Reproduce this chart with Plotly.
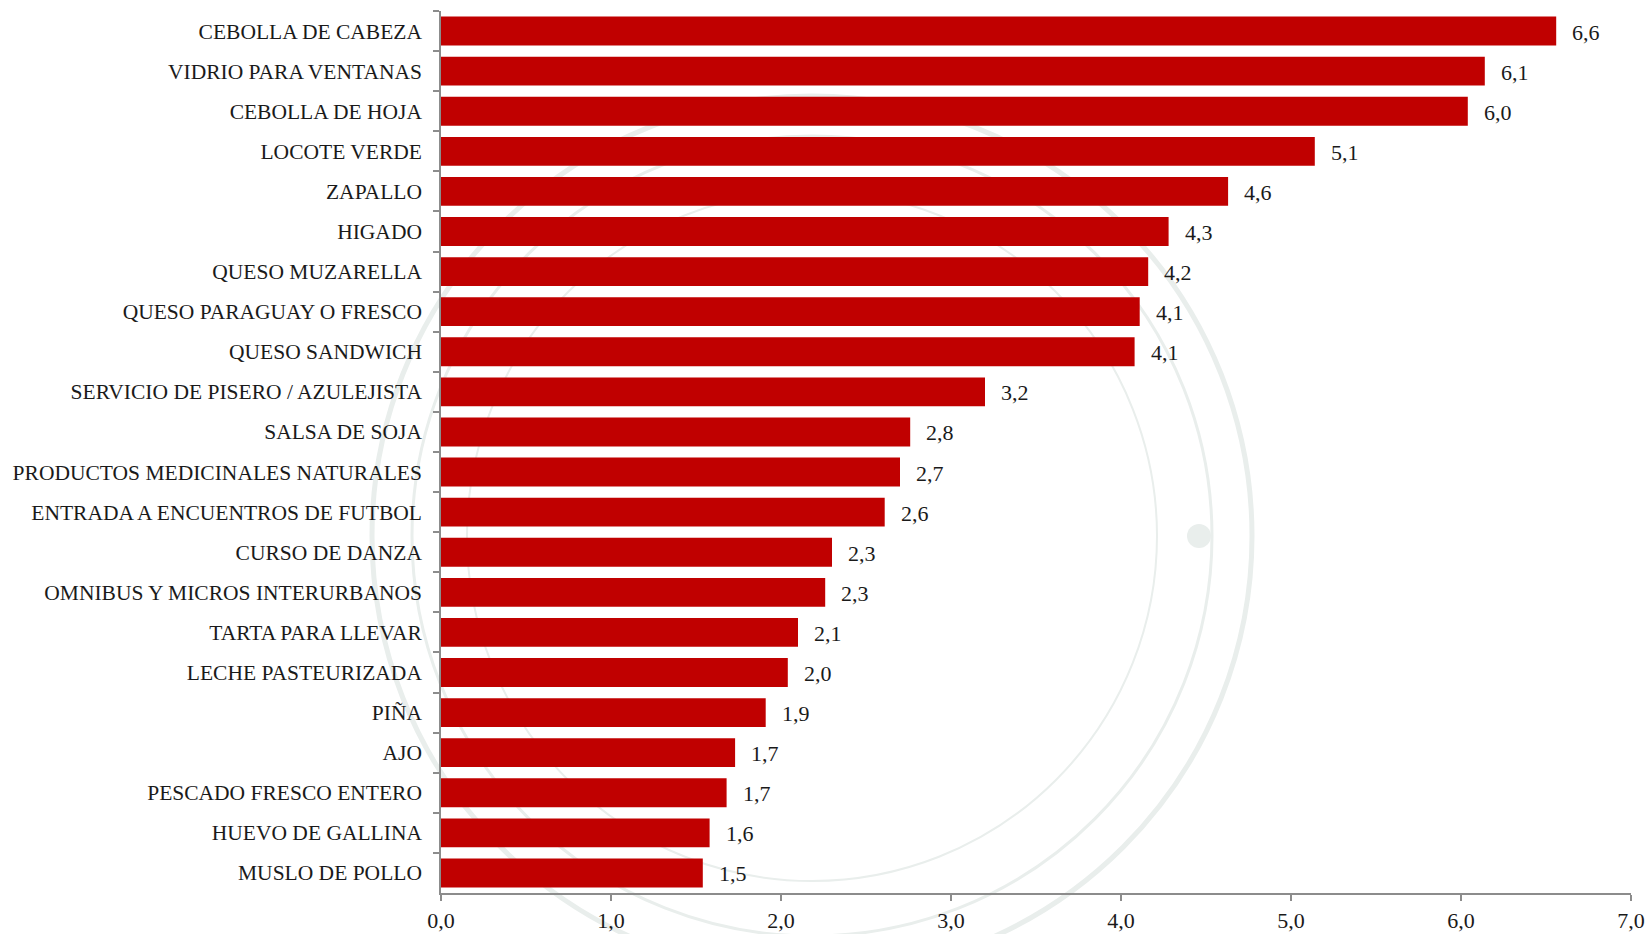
import plotly.graph_objects as go

categories = [
    "CEBOLLA DE CABEZA", "VIDRIO PARA VENTANAS", "CEBOLLA DE HOJA", "LOCOTE VERDE",
    "ZAPALLO", "HIGADO", "QUESO MUZARELLA", "QUESO PARAGUAY O FRESCO",
    "QUESO SANDWICH", "SERVICIO DE PISERO / AZULEJISTA", "SALSA DE SOJA",
    "PRODUCTOS MEDICINALES NATURALES", "ENTRADA A ENCUENTROS DE FUTBOL",
    "CURSO DE DANZA", "OMNIBUS Y MICROS INTERURBANOS", "TARTA PARA LLEVAR",
    "LECHE PASTEURIZADA", "PIÑA", "AJO", "PESCADO FRESCO ENTERO",
    "HUEVO DE GALLINA", "MUSLO DE POLLO",
]
values = [6.56, 6.14, 6.04, 5.14, 4.63, 4.28, 4.16, 4.11, 4.08, 3.20, 2.76,
          2.70, 2.61, 2.30, 2.26, 2.10, 2.04, 1.91, 1.73, 1.68, 1.58, 1.54]
x_ticks = [0, 1, 2, 3, 4, 5, 6, 7]
x_tick_labels = ["0,0", "1,0", "2,0", "3,0", "4,0", "5,0", "6,0", "7,0"]

FONT = "Liberation Serif, Times New Roman, serif"
W, H = 1649, 934
ML, MR, MT, MB = 441, 18, 11, 41

labels = [f"{v:.1f}".replace(".", ",") for v in values]

fig = go.Figure()
fig.add_trace(go.Bar(
    x=values, y=categories, orientation="h",
    marker=dict(color="#C00000", line=dict(width=0)),
    width=0.72,
    hoverinfo="skip",
))

for c, v, t in zip(categories, values, labels):
    fig.add_annotation(x=v, y=c, text=t, xanchor="left", yanchor="middle",
                       xshift=14, yshift=-1, showarrow=False,
                       font=dict(family=FONT, size=22, color="#1a1a1a"))

# faint watermark seal rings
pw = W - ML - MR
ph = H - MT - MB
cx = (812 - ML) / pw
cy = 1 - (536 - MT) / ph
wm = "#e9eeec"
for r, lw in [(440, 5), (400, 3), (345, 2)]:
    fig.add_shape(type="circle", xref="paper", yref="paper",
                  xsizemode="pixel", ysizemode="pixel",
                  xanchor=cx, yanchor=cy, x0=-r, x1=r, y0=-r, y1=r,
                  line=dict(color=wm, width=lw), layer="below")
fig.add_shape(type="circle", xref="paper", yref="paper",
              xsizemode="pixel", ysizemode="pixel",
              xanchor=cx + 387 / pw, yanchor=cy, x0=-12, x1=12, y0=-12, y1=12,
              line=dict(width=0), fillcolor=wm, layer="below")

fig.update_layout(
    width=W, height=H,
    margin=dict(l=ML, r=MR, t=MT, b=MB, autoexpand=False),
    paper_bgcolor="white", plot_bgcolor="rgba(0,0,0,0)",
    showlegend=False,
    font=dict(family=FONT, size=21.5, color="#1a1a1a"),
    xaxis=dict(range=[0, 7], tickvals=x_ticks, ticktext=x_tick_labels,
               showgrid=False, zeroline=False, showline=True,
               linecolor="#8c8c8c", linewidth=1.5,
               ticks="outside", ticklen=6, tickcolor="#8c8c8c", tickwidth=1.5,
               ticklabelstandoff=1,
               tickfont=dict(family=FONT, size=22, color="#1a1a1a"),
               fixedrange=True),
    yaxis=dict(autorange="reversed", type="category", tickson="boundaries",
               showgrid=False, zeroline=False, showline=True,
               linecolor="#8c8c8c", linewidth=1.5,
               ticks="outside", ticklen=6, tickcolor="#8c8c8c", tickwidth=1.5,
               ticklabelstandoff=13,
               tickfont=dict(family=FONT, size=21.5, color="#1a1a1a"),
               fixedrange=True),
)

fig.write_html("out.html", config={"displayModeBar": False},
               post_script="document.body.style.margin='0px';")
